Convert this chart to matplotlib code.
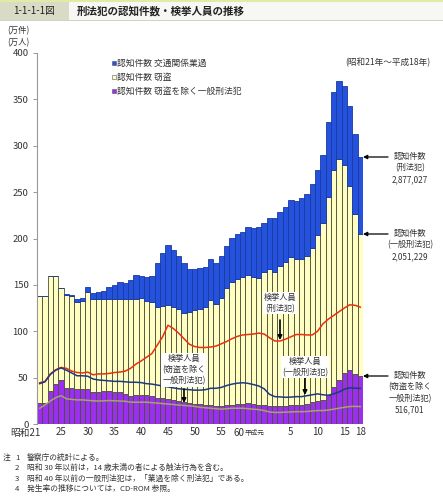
import matplotlib
matplotlib.use("Agg")
import matplotlib.pyplot as plt
from matplotlib.patches import Rectangle
import numpy as np

plt.rcParams['font.family'] = ['Noto Sans CJK JP', 'DejaVu Sans']

# ---- data (万件 / 万人), 昭和21年(1946) ～ 平成18年(2006) ----
years = list(range(1946, 2007))
total = [138.4, 138.4, 159.9, 159.9, 146.6, 139.8, 139.3, 134.4, 135.5, 147.3,
         140.9, 142.2, 143.7, 148.0, 149.5, 152.7, 151.7, 155.3, 160.6, 159.9,
         158.8, 159.5, 173.2, 184.7, 192.6, 187.6, 181.5, 173.2, 166.7, 166.7,
         168.2, 169.6, 177.5, 174.0, 181.5, 192.0, 200.5, 204.5, 207.5, 212.0,
         211.0, 212.7, 217.0, 222.0, 221.8, 229.0, 233.7, 241.0, 240.4, 243.6,
         248.0, 259.0, 273.4, 290.5, 325.6, 358.2, 369.4, 364.6, 342.8, 312.5, 287.7]
general = [138.4, 138.4, 159.9, 159.9, 146.3, 139.1, 138.5, 132.0, 132.7, 142.6,
           135.2, 134.3, 134.4, 135.1, 135.1, 135.1, 134.5, 134.8, 134.4, 135.5,
           133.0, 131.0, 126.0, 127.0, 128.0, 126.5, 124.0, 119.5, 121.1, 123.4,
           123.6, 126.6, 133.6, 128.9, 135.7, 146.3, 152.8, 156.8, 158.8, 160.8,
           158.1, 157.7, 164.1, 167.3, 163.7, 170.8, 174.2, 180.1, 178.4, 178.3,
           181.2, 190.0, 203.4, 216.6, 244.3, 273.6, 285.4, 279.0, 256.3, 226.9, 205.1]
non_theft = [23.0, 23.0, 35.6, 42.8, 47.4, 38.5, 38.5, 37.7, 37.7, 37.3,
             34.5, 34.5, 35.9, 35.6, 35.0, 34.3, 32.3, 30.5, 31.5, 31.0,
             31.0, 30.0, 28.5, 27.5, 26.5, 25.5, 24.8, 24.0, 23.0, 22.0,
             21.5, 21.0, 20.5, 19.5, 19.2, 20.5, 21.0, 21.5, 21.8, 22.6,
             22.0, 21.0, 20.5, 19.5, 19.3, 19.5, 19.8, 20.5, 20.5, 20.5,
             21.6, 23.4, 24.4, 25.5, 31.2, 39.5, 47.6, 55.4, 58.1, 54.4, 51.7]
arrest_all = [44.5, 46.0, 54.0, 58.5, 61.0, 60.0, 57.0, 55.5, 55.0, 56.0,
              53.0, 54.0, 54.0, 54.5, 55.5, 56.0, 57.0, 60.0, 64.5, 68.0,
              72.0, 76.0, 85.0, 94.0, 106.5, 103.0, 98.0, 92.0, 86.0, 83.5,
              82.5, 82.5, 83.0, 84.0, 86.5, 89.0, 92.0, 94.5, 96.0, 96.5,
              97.0, 98.0, 97.0, 93.0, 89.5, 89.5, 91.5, 94.0, 96.5, 96.5,
              96.0, 96.0, 100.0, 108.0, 113.0, 117.0, 121.0, 125.0, 128.5, 128.0, 126.0]
arrest_general = [43.5, 45.5, 53.5, 58.0, 60.5, 58.0, 55.0, 52.0, 52.0, 51.5,
                  48.5, 47.5, 47.0, 46.5, 46.0, 46.0, 45.5, 45.0, 45.0, 44.6,
                  43.5, 43.0, 42.0, 41.0, 40.0, 39.0, 38.0, 37.5, 37.0, 36.5,
                  36.5, 37.0, 38.5, 38.5, 39.5, 41.5, 43.0, 44.0, 44.5, 43.8,
                  42.5, 41.0, 38.0, 32.0, 29.5, 29.2, 28.8, 29.0, 29.5, 29.5,
                  30.5, 31.5, 32.5, 31.5, 31.0, 32.5, 34.5, 37.5, 39.0, 38.6, 38.4]
arrest_non_theft = [16.9, 20.6, 24.8, 28.4, 30.5, 27.2, 26.5, 26.0, 26.0, 25.5,
                    25.0, 24.8, 25.0, 25.3, 25.0, 24.8, 24.5, 23.5, 23.5, 23.5,
                    23.5, 23.0, 22.5, 22.0, 21.5, 21.0, 20.5, 20.0, 19.5, 19.0,
                    18.0, 17.5, 17.0, 16.5, 16.0, 16.5, 17.0, 17.0, 17.0, 16.5,
                    16.0, 15.5, 14.5, 13.0, 12.5, 12.5, 12.8, 13.0, 13.3, 13.3,
                    13.5, 14.0, 14.5, 14.5, 15.0, 16.0, 17.0, 18.0, 18.8, 19.0, 18.8]
tick_years = [1946, 1950, 1955, 1960, 1965, 1970, 1975, 1980, 1985, 1993, 1998, 2003, 2006]
tick_labels = ['', '25', '30', '35', '40', '45', '50', '55', '', '5', '10', '15', '18']

W, H = 443, 500
fig = plt.figure(figsize=(W / 100, H / 100), dpi=100)
fig.patch.set_facecolor('white')

def fx(x):
    return x / W

def fy(y):
    return 1 - y / H

# ---- header ----
fig.patches.append(Rectangle((0, fy(20)), 1, 20 / H, transform=fig.transFigure,
                             facecolor='#f7f7f3', edgecolor='#c9c9c0', lw=0.6, zorder=0))
fig.patches.append(Rectangle((0, fy(20)), fx(69), 20 / H, transform=fig.transFigure,
                             facecolor='#d9dbc6', edgecolor='none', zorder=1))
fig.patches.append(Rectangle((0, fy(2)), 1, 2 / H, transform=fig.transFigure,
                             facecolor='#e3eaa6', edgecolor='none', zorder=2))
fig.text(fx(34), fy(11), '1-1-1-1図', ha='center', va='center', fontsize=7, color='#222222')
fig.text(fx(77), fy(11), '刑法犯の認知件数・検挙人員の推移', ha='left', va='center',
         fontsize=7.6, fontweight='bold', color='#222222')

# ---- axes ----
ax = fig.add_axes([fx(37), fy(424), fx(363) - fx(37), (424 - 53) / H])
x = np.arange(len(years))
t = np.array(total)
g = np.array(general)
p = np.array(non_theft)
theft = g - p
traffic = t - g

edge = '#4d4d33'
ax.bar(x, p, width=1.0, color='#9a2ff0', edgecolor=edge, linewidth=0.6, zorder=2)
ax.bar(x, theft, bottom=p, width=1.0, color='#ffffc4', edgecolor=edge, linewidth=0.6, zorder=2)
ax.bar(x, traffic, bottom=g, width=1.0, color='#2452dc', edgecolor='#1a3aa0', linewidth=0.6, zorder=2)

ax.plot(x, arrest_all, color='#e8300e', lw=1.1, zorder=4)
ax.plot(x, arrest_general, color='#1c3a80', lw=1.1, zorder=4)
ax.plot(x, arrest_non_theft, color='#a5a26a', lw=1.1, zorder=4)

ax.set_xlim(-0.5, len(years) - 0.5)
ax.set_ylim(0, 400)
ax.set_yticks(range(0, 401, 50))
ax.tick_params(axis='y', labelsize=6.8, length=3, width=0.6, color='#888888', pad=3,
               labelcolor='#333333')
ax.set_xticks([years.index(yv) for yv in tick_years])
ax.set_xticklabels(tick_labels)
ax.tick_params(axis='x', length=0, labelsize=7, pad=2.5, labelcolor='#333333')
for s in ['top', 'right', 'bottom']:
    ax.spines[s].set_visible(False)
ax.spines['left'].set_color('#999999')
ax.spines['left'].set_linewidth(0.8)
ax.set_facecolor('none')

# special x labels
fig.text(fx(41), fy(433), '昭和21', ha='right', va='center', fontsize=7, color='#333333')
fig.text(fx(245), fy(433), '60', ha='right', va='center', fontsize=7, color='#333333')
fig.text(fx(245), fy(433), '平成元', ha='left', va='center', fontsize=4.8, color='#333333')

# units
fig.text(fx(7), fy(31), '(万件)', ha='left', va='center', fontsize=6, color='#333333')
fig.text(fx(7), fy(43), '(万人)', ha='left', va='center', fontsize=6, color='#333333')
fig.text(fx(430), fy(63), '(昭和21年～平成18年)', ha='right', va='center', fontsize=6.2,
         color='#333333')

# legend
leg = [('#2452dc', '認知件数 交通関係業過', 63),
       ('#ffffc4', '認知件数 窃盗', 77),
       ('#9a2ff0', '認知件数 窃盗を除く一般刑法犯', 91)]
for col, lab, yy in leg:
    fig.patches.append(Rectangle((fx(112), fy(yy + 2)), 4 / W, 4 / H, transform=fig.transFigure,
                                 facecolor=col, edgecolor='#555555', lw=0.4))
    fig.text(fx(117), fy(yy), lab, ha='left', va='center', fontsize=6.3, color='#333333')

# right annotations
def right_note(y_arrow, text):
    fig.text(fx(410), fy(y_arrow - 5), text, ha='center', va='top', fontsize=5.9,
             color='#333333', linespacing=1.35)
    ax.annotate('', xy=(fx(363), fy(y_arrow)), xycoords='figure fraction',
                xytext=(fx(388), fy(y_arrow)), textcoords='figure fraction',
                arrowprops=dict(arrowstyle='-|>', color='black', lw=0.9,
                                mutation_scale=6, shrinkA=0, shrinkB=0))

right_note(157, '認知件数\n(刑法犯)\n2,877,027')
right_note(234, '認知件数\n(一般刑法犯)\n2,051,229')
right_note(376, '認知件数\n(窃盗を除く\n一般刑法犯)\n516,701')

# inner annotations
def inner_note(xc, ytop, text, ytip, yfrom):
    fig.text(fx(xc), fy(ytop), text, ha='center', va='top', fontsize=5.9, color='#333333',
             linespacing=1.3, zorder=6,
             bbox=dict(boxstyle='square,pad=0.15', facecolor='white', edgecolor='none'))
    ax.annotate('', xy=(fx(xc), fy(ytip)), xycoords='figure fraction',
                xytext=(fx(xc), fy(yfrom)), textcoords='figure fraction',
                arrowprops=dict(arrowstyle='-|>', color='black', lw=1.2,
                                mutation_scale=6, shrinkA=0, shrinkB=0), zorder=6)

inner_note(280, 293, '検挙人員\n(刑法犯)', 340, 320)
inner_note(184, 354, '検挙人員\n(窃盗を除く\n一般刑法犯)', 403, 389)
inner_note(305, 357, '検挙人員\n(一般刑法犯)', 395, 377)

# notes
notes = ['警察庁の統計による。',
         '昭和 30 年以前は，14 歳未満の者による触法行為を含む。',
         '昭和 40 年以前の一般刑法犯は，「業過を除く刑法犯」である。',
         '発生率の推移については，CD-ROM 参照。']
fig.text(fx(3), fy(458), '注', ha='left', va='center', fontsize=5.6, color='#333333')
for i, n in enumerate(notes):
    yy = 458 + i * 10.4
    fig.text(fx(15), fy(yy), str(i + 1), ha='left', va='center', fontsize=5.6, color='#333333')
    fig.text(fx(27), fy(yy), n, ha='left', va='center', fontsize=5.6, color='#333333')

fig.savefig('out.png', dpi=100, facecolor='white')
